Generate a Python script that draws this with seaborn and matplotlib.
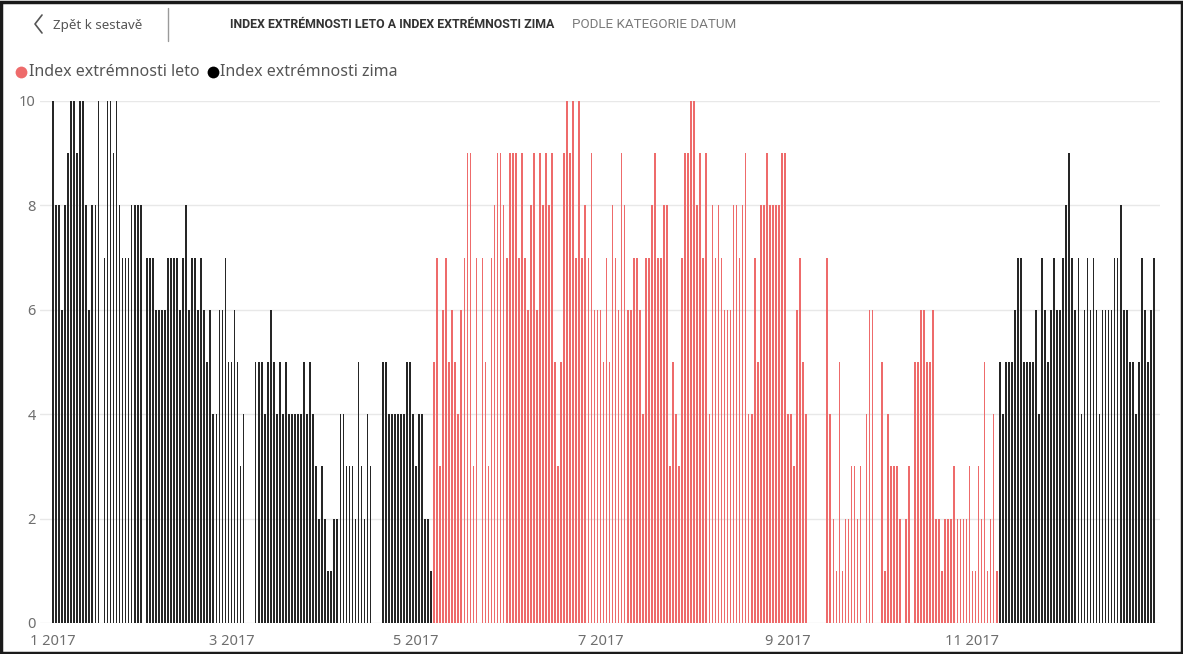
import numpy as np
import pandas as pd
import matplotlib
matplotlib.use("Agg")
import matplotlib.pyplot as plt
from matplotlib.lines import Line2D
from matplotlib.patches import Rectangle
import seaborn as sns

# Daily index values for 2017, one list per month (None = no value that day)
jan = [10, 8, 8, 6, 8, 9, 10, 10, 9, 10, 10, 8, 6, 8, 8, 10, None, 7, 10, 10,
       9, 10, 8, 7, 7, 7, 8, 8, 8, 8, None]
feb = [7, 7, 7, 6, 6, 6, 6, 7, 7, 7, 7, 6, 7, 8, 6, 7, 7, 6, 7, 6,
       5, 6, 4, 4, 6, 6, 7, 5]
mar = [5, 6, 5, 3, 4, None, None, None, 5, 5, 5, 4, 5, 6, 5, 4, 5, 4, 5, 4,
       4, 4, 4, 4, 5, 4, 5, 4, 3, 2, 3]
apr = [2, 1, 1, 2, 2, 4, 4, 3, 3, 3, 2, 5, 3, 2, 4, 3, None, None, None, 5,
       5, 4, 4, 4, 4, 4, 4, 5, 5, 4]
may = [3, 4, 4, 2, 2, 1, 5, 7, 3, 6, 7, 5, 6, 5, 4, 6, 7, 9, 9, 3,
       7, None, 7, 5, 3, 7, 8, 9, 9, 8, 7]
jun = [9, 9, 9, 7, 9, 7, 6, 8, 9, 6, 9, 8, 9, 8, 9, 5, 3, 5, 9, 10,
       9, 10, 7, 10, 7, 8, 7, 9, 6, 6]
jul = [6, 5, 7, 5, 8, 7, 6, 9, 8, 6, 6, 7, 7, 6, 4, 7, 7, 8, 9, 7,
       7, 8, 8, 3, 5, 4, 3, 7, 9, 9, 10]
aug = [10, 8, 9, 7, 9, 4, 8, 7, 8, 7, 6, 6, 6, 8, 8, 7, 8, 9, 4, 4,
       7, 5, 8, 8, 9, 8, 8, 8, 8, 9, 9]
sep = [4, 4, 3, 6, 7, 5, 4, None, None, None, None, None, None, 7, 4, 2, 1, 5, 1, 2,
       2, 3, 3, 2, 3, None, 4, 6, 6, None]
oct_ = [None, 5, 1, 4, 3, 3, 3, 2, None, 2, 3, None, 5, 5, 6, 6, 5, 5, 6, 2,
        2, 1, 2, 2, 2, 3, 2, 2, 2, 2, 3]
nov = [1, 1, 3, 2, 5, 1, 2, 4, 1, 5, 4, 5, 5, 5, 6, 7, 7, 5, 5, 5,
       5, 6, 4, 7, 6, 5, 6, 7, 6, 6]
dec = [7, 8, 9, 7, 6, 7, 4, 6, 7, 6, 7, 6, 4, 6, 6, 6, 6, 7, 7, 8,
       6, 6, 5, 5, 4, 5, 7, 6, 5, 6, 7]

# Period in which the value belongs to the summer index
leto_from, leto_to = "2017-05-07", "2017-11-09"

series_names = {"leto": "Index extrémnosti leto", "zima": "Index extrémnosti zima"}
month_ticks = ["2017-01-01", "2017-03-01", "2017-05-01", "2017-07-01", "2017-09-01", "2017-11-01"]
month_labels = ["1 2017", "3 2017", "5 2017", "7 2017", "9 2017", "11 2017"]

RED = "#EE6B6B"
DARK = "#262626"
GRID = "#E8E8E8"
TXT = "#6E6E6E"

values = jan + feb + mar + apr + may + jun + jul + aug + sep + oct_ + nov + dec
dates = pd.date_range("2017-01-01", "2017-12-31", freq="D")
df = pd.DataFrame({"datum": dates, "hodnota": pd.array(values, dtype="Float64")})
df["den"] = (df["datum"] - dates[0]).dt.days
in_summer = (df["datum"] >= leto_from) & (df["datum"] <= leto_to)
df["serie"] = np.where(in_summer, series_names["leto"], series_names["zima"])
df = df.dropna(subset=["hodnota"])
df["hodnota"] = df["hodnota"].astype(float)

sns.set_theme(style="white")
plt.rcParams["font.family"] = ["Noto Sans", "DejaVu Sans"]

W, H = 1183, 654
fig = plt.figure(figsize=(W / 100, H / 100), dpi=100)
fig.patch.set_facecolor("white")

ax = fig.add_axes([40 / W, 31 / H, 1120 / W, 522 / H])
sns.barplot(
    data=df, x="den", y="hodnota", hue="serie",
    palette={series_names["leto"]: RED, series_names["zima"]: DARK},
    native_scale=True, dodge=False, width=0.55, saturation=1,
    errorbar=None, legend=False, linewidth=0, ax=ax,
)

ax.set_xlim(-4.3, 366)
ax.set_ylim(0, 10)
ax.set_yticks([0, 2, 4, 6, 8, 10])
ax.yaxis.grid(True, color=GRID, linewidth=1)
ax.xaxis.grid(False)
ax.set_axisbelow(True)
tick_days = [(pd.Timestamp(t) - dates[0]).days for t in month_ticks]
ax.set_xticks(tick_days)
ax.set_xticklabels(month_labels)
ax.tick_params(axis="both", length=0, labelsize=10.5, labelcolor=TXT)
ax.tick_params(axis="y", pad=3)
ax.tick_params(axis="x", pad=8)
ax.set_xlabel("")
ax.set_ylabel("")
for s in ax.spines.values():
    s.set_visible(False)


def fx(px):
    return px / W


def fy(py):
    return 1 - py / H


# Header: back link, separator, title
fig.add_artist(Line2D([fx(42), fx(35), fx(42)], [fy(15), fy(24), fy(33)],
                      color="#555555", linewidth=1.2))
fig.text(fx(53), fy(26), "Zpět k sestavě", fontsize=9.6, color="#555555", va="center")
fig.add_artist(Line2D([fx(168), fx(168)], [fy(8), fy(41)], color="#9A9A9A", linewidth=1))
fig.text(fx(230), fy(24), "INDEX EXTRÉMNOSTI LETO A INDEX EXTRÉMNOSTI ZIMA",
         fontsize=8.9, fontweight="bold", color="#333333", va="center", family="Roboto")
fig.text(fx(572), fy(24), "PODLE KATEGORIE DATUM",
         fontsize=9.6, color="#7A7A7A", va="center", family="Roboto")

# Legend
fig.add_artist(Line2D([fx(21)], [fy(72)], marker="o", markersize=8.5, color=RED,
                      markeredgewidth=0, linestyle="none"))
fig.text(fx(29), fy(72), series_names["leto"], fontsize=11.5, color="#555555", va="center")
fig.add_artist(Line2D([fx(213)], [fy(72)], marker="o", markersize=8.5, color="black",
                      markeredgewidth=0, linestyle="none"))
fig.text(fx(220), fy(72), series_names["zima"], fontsize=11.5, color="#555555", va="center")

# Outer frame
fig.add_artist(Rectangle((1 / W, 1 / H), 1 - 2.5 / W, 1 - 2.5 / H, transform=fig.transFigure,
                         fill=False, edgecolor="#1A1A1A", linewidth=2.5))

fig.savefig("out.png", dpi=100, facecolor="white")
